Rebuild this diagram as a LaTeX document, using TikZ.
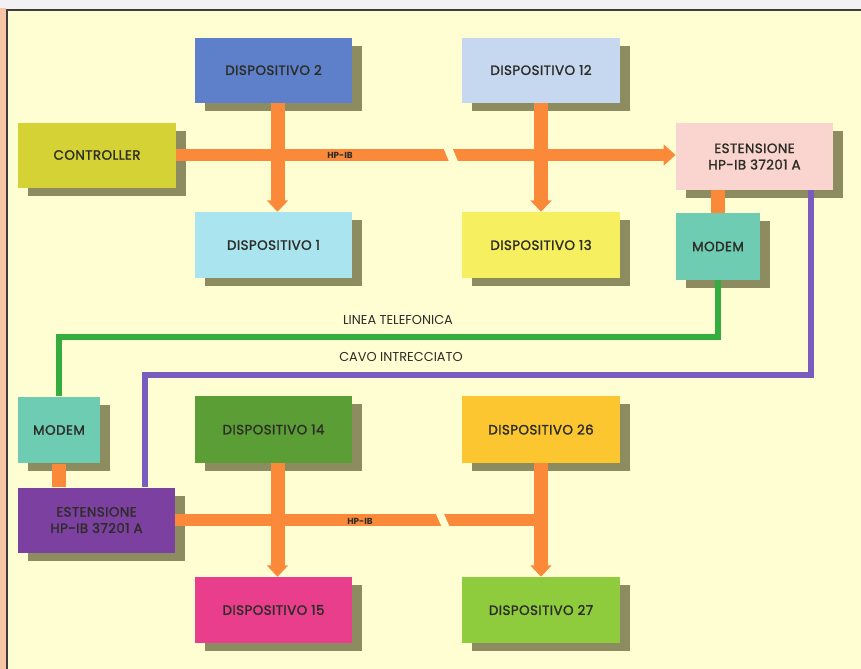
\documentclass[tikz,border=0pt]{standalone}
\usepackage{fontspec}
\setmainfont{Poppins}
\usetikzlibrary{arrows.meta,positioning,shadows,calc}
\definecolor{bgCream}{RGB}{255, 253, 210}
\definecolor{stripSalmon}{RGB}{246, 196, 166}
\definecolor{frameDark}{RGB}{60, 60, 60}
\definecolor{shadowOlive}{RGB}{140, 140, 96}
\definecolor{textDark}{RGB}{45, 45, 40}
\definecolor{busOrange}{RGB}{250, 138, 58}
\definecolor{telGreen}{RGB}{52, 172, 62}
\definecolor{cabPurple}{RGB}{122, 92, 190}
\definecolor{ctrlYellow}{RGB}{212, 210, 52}
\definecolor{devBlue}{RGB}{94, 128, 202}
\definecolor{devCyan}{RGB}{170, 228, 238}
\definecolor{devPaleBlue}{RGB}{198, 216, 240}
\definecolor{devYellow}{RGB}{246, 240, 96}
\definecolor{extPink}{RGB}{250, 212, 206}
\definecolor{modemTeal}{RGB}{110, 204, 178}
\definecolor{extPurple}{RGB}{124, 64, 160}
\definecolor{devGreen}{RGB}{92, 158, 54}
\definecolor{devMagenta}{RGB}{232, 62, 140}
\definecolor{devAmber}{RGB}{251, 198, 48}
\definecolor{devLime}{RGB}{142, 204, 62}

\begin{document}
\begin{tikzpicture}[
    x=0.03cm, y=-0.03cm,
    font=\fontsize{10.5}{12.5}\selectfont,
    dev/.style={
        rectangle, minimum width=4.72cm, minimum height=1.95cm, inner sep=0pt,
        align=center, text=textDark,
        font=\fontsize{11.5}{14}\selectfont\addfontfeature{LetterSpace=3,FakeBold=1.6},
        drop shadow={shadow xshift=0.3cm, shadow yshift=-0.24cm, fill=shadowOlive, opacity=1}
    },
    modembox/.style={dev, minimum width=2.5cm, minimum height=2cm},
    bus/.style={draw=busOrange, line width=0.36cm},
    busarr/.style={bus, -{Triangle[width=0.62cm, length=0.36cm]}},
    drop/.style={draw=busOrange, line width=0.42cm, -{Triangle[width=0.62cm, length=0.34cm]}},
    wire/.style={line width=0.18cm},
    wirelabel/.style={font=\fontsize{11}{13}\selectfont, text=textDark, inner sep=1pt},
    buslabel/.style={font=\fontsize{7.5}{8}\selectfont\bfseries, text=textDark, inner sep=0pt}
]

    % Page and frame
    \useasboundingbox (0,0) rectangle (861,669);
    \fill [white!95!black] (0,0) rectangle (861,10);
    \fill [stripSalmon] (0,8) rectangle (6,669);
    \fill [bgCream] (7,10) rectangle (861,669);
    \draw [frameDark, line width=1.2pt] (7,669) -- (7,10) -- (861,10);

    % Upper group
    \node [dev, fill=ctrlYellow, minimum width=4.74cm] (ctrl) at (97,155) {CONTROLLER};
    \node [dev, fill=devBlue] (dtwo) at (273.5,70) {DISPOSITIVO 2};
    \node [dev, fill=devCyan, minimum height=1.98cm] (done) at (273.5,245) {DISPOSITIVO 1};
    \node [dev, fill=devPaleBlue] (dtwelve) at (541,70) {DISPOSITIVO 12};
    \node [dev, fill=devYellow, minimum height=1.98cm] (dthirteen) at (541,245) {DISPOSITIVO 13};
    \node [dev, fill=extPink, minimum height=2cm] (extt) at (754.5,156.5) {ESTENSIONE\\HP-IB 37201 A};
    \node [modembox, fill=modemTeal] (modemt) at (718,246.5) {MODEM};

    % Lower group
    \node [modembox, fill=modemTeal, minimum width=2.46cm] (modemb) at (59,430) {MODEM};
    \node [dev, fill=extPurple] (extb) at (96.5,520) {ESTENSIONE\\HP-IB 37201 A};
    \node [dev, fill=devGreen, minimum height=2cm] (dfourteen) at (273.5,429.5) {DISPOSITIVO 14};
    \node [dev, fill=devMagenta, minimum height=1.98cm] (dfifteen) at (273.5,610) {DISPOSITIVO 15};
    \node [dev, fill=devAmber, minimum height=2cm] (dtwentysix) at (541,429.5) {DISPOSITIVO 26};
    \node [dev, fill=devLime, minimum height=1.98cm] (dtwentyseven) at (541,610) {DISPOSITIVO 27};

    % HP-IB bus, upper
    \draw [busarr] (ctrl.east) -- (ctrl.east -| extt.west);
    \draw [drop] ($(dtwo.south)+(4,0)$) -- ($(done.north)+(4,0)$);
    \draw [drop] (dtwelve.south) -- (dthirteen.north);
    \fill [bgCream] (443,147) -- (452,147) -- (459,164) -- (450,164) -- cycle;
    \node [buslabel] (hpibt) at (340,155) {HP-IB};

    % HP-IB bus, lower
    \draw [bus] (extb.east) -- (extb.east -| dtwentysix.south);
    \draw [drop] ($(dfourteen.south)+(4,0)$) -- ($(dfifteen.north)+(4,0)$);
    \draw [drop] (dtwentysix.south) -- (dtwentyseven.north);
    \fill [bgCream] (436,514) -- (444,514) -- (452,532) -- (444,532) -- cycle;
    \node [buslabel] (hpibb) at (360,521) {HP-IB};

    % Extension to modem
    \draw [draw=busOrange, line width=0.42cm] (modemt.north) -- (modemt.north |- extt.south);
    \draw [draw=busOrange, line width=0.42cm] (modemb.south) -- (modemb.south |- extb.north);

    % Telephone line and twisted cable
    \coordinate (tel) at (400,337);
    \coordinate (cab) at (400,375);
    \draw [wire, draw=telGreen] (modemt.south) |- (tel) -| (modemb.north);
    \draw [wire, draw=cabPurple] ($(extt.south east)+(-22,0)$) |- (cab) -| ($(extb.north west)+(127,0)$);
    \node [wirelabel] (teltext) at (398,320) {LINEA TELEFONICA};
    \node [wirelabel] (cabtext) at (401,357) {CAVO INTRECCIATO};

\end{tikzpicture}
\end{document}
